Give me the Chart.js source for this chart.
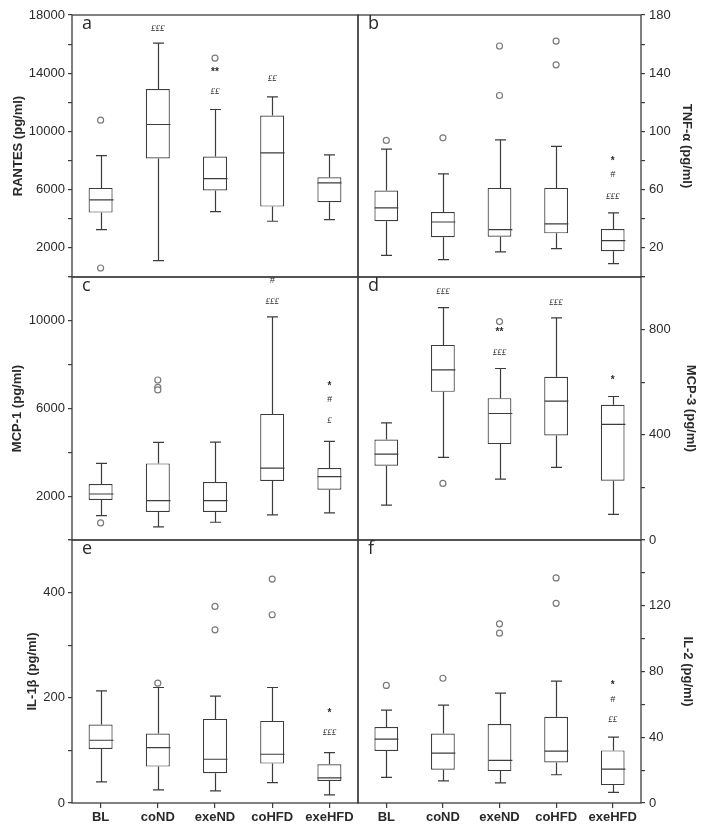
<!DOCTYPE html>
<html><head><meta charset="utf-8">
<script src="https://cdn.jsdelivr.net/npm/chart.js@4.4.0/dist/chart.umd.min.js"></script>
<style>
html,body{margin:0;padding:0;background:#fff;}
#wrap{position:relative;width:706px;height:826px;overflow:hidden;}
canvas{position:absolute;left:0;top:0;}
</style></head><body><div id="wrap">
<canvas id="pa" width="706" height="826"></canvas>
<canvas id="pb" width="706" height="826"></canvas>
<canvas id="pc" width="706" height="826"></canvas>
<canvas id="pd" width="706" height="826"></canvas>
<canvas id="pe" width="706" height="826"></canvas>
<canvas id="pf" width="706" height="826"></canvas>
</div>
<script>
const categories = ['BL', 'coND', 'exeND', 'coHFD', 'exeHFD'];

// a: RANTES
const rantesMin    = [3256, 1123, 4494, 3829, 3943];
const rantesQ1     = [4425, 8139, 5938, 4838, 5136];
const rantesMedian = [5296, 10478, 6763, 8529, 6465];
const rantesQ3     = [6121, 12908, 8277, 11097, 6855];
const rantesMax    = [8345, 16072, 11509, 12380, 8391];
const rantesOutliers = [[10776, 619], [], [15040], [], []];
const rantesMarks  = [[], [['£££', 17080]], [['££', 12724], ['**', 14283]], [['££', 13641]], []];
const rantesTickLabels = [2000, 6000, 10000, 14000, 18000];

// b: TNF-alpha
const tnfMin    = [14.9, 11.9, 17.2, 19.5, 9.2];
const tnfQ1     = [38.3, 27.3, 27.7, 30.0, 17.7];
const tnfMedian = [47.5, 37.8, 32.6, 36.5, 25.0];
const tnfQ3     = [59.4, 44.7, 61.2, 61.2, 33.0];
const tnfMax    = [87.8, 70.9, 94.2, 89.7, 44.0];
const tnfOutliers = [[93.8], [95.6], [158.7, 124.7], [162.1, 145.8], []];
const tnfMarks  = [[], [], [], [], [['£££', 55.0], ['#', 70.2], ['*', 81.6]]];
const tnfTickLabels = [20, 60, 100, 140, 180];

// c: MCP-1
const mcp1Min    = [1114, 599, 811, 1145, 1236];
const mcp1Q1     = [1827, 1281, 1281, 2691, 2297];
const mcp1Median = [2100, 1797, 1797, 3283, 2889];
const mcp1Q3     = [2555, 3495, 2646, 5754, 3283];
const mcp1Max    = [3495, 4450, 4466, 10182, 4496];
const mcp1Outliers = [[781], [7301, 6968, 6846], [], [], []];
const mcp1Marks  = [[], [], [], [['£££', 10865], ['#', 11820]], [['£', 5451], ['#', 6391], ['*', 7149]]];
const mcp1TickLabels = [2000, 6000, 10000];

// d: MCP-3
const mcp3Min    = [132.9, 314, 231.7, 276, 97.5];
const mcp3Q1     = [282.3, 563.4, 364.6, 397.5, 225.3];
const mcp3Median = [326.6, 646.9, 481, 527.9, 439.3];
const mcp3Q3     = [382.3, 741.9, 539.3, 620.3, 514];
const mcp3Max    = [445.6, 883.6, 652, 844.4, 545.6];
const mcp3Outliers = [[], [215.2], [830.5], [], []];
const mcp3Marks  = [[], [['£££', 943]], [['£££', 714], ['**', 800]], [['£££', 904]], [['*', 620]]];
const mcp3TickLabels = [0, 400, 800];

// e: IL-1beta
const il1Min    = [40, 24.8, 22.9, 38.8, 15.3];
const il1Q1     = [102.8, 69.2, 56.5, 74.9, 41.9];
const il1Median = [119.3, 105.4, 83.2, 92.7, 47.6];
const il1Q3     = [149.2, 132, 159.9, 156.1, 73.7];
const il1Max    = [213.2, 219.6, 203.1, 219.6, 95.9];
const il1Outliers = [[], [227.8], [373.7, 329.3], [425.8, 357.9], []];
const il1Marks  = [[], [], [], [], [['£££', 133.9], ['*', 176.4]]];
const il1TickLabels = [0, 200, 400];

// f: IL-2
const il2Min    = [15.6, 13.4, 12.3, 17.2, 6.5];
const il2Q1     = [31.6, 20.2, 19.4, 24.7, 10.9];
const il2Median = [38.9, 30.4, 25.9, 31.6, 20.6];
const il2Q3     = [46.2, 42.3, 48, 52.4, 32];
const il2Max    = [56.5, 59.5, 66.8, 74.1, 40.1];
const il2Outliers = [[71.5], [75.9], [109, 103.3], [136.9, 121.5], []];
const il2Marks  = [[], [], [], [], [['££', 50.6], ['#', 63.2], ['*', 73.5]]];
const il2TickLabels = [0, 40, 80, 120];

const LINE = '#3c3c3c';
const TXT = '#2a2a2a';
const FONT = "'Liberation Sans', Arial, sans-serif";

const boxExtras = {
  id: 'boxExtras',
  afterDatasetsDraw(chart, args, o) {
    const { ctx, chartArea: a, scales: { x, y } } = chart;
    const bars = chart.getDatasetMeta(0).data;
    ctx.save();
    ctx.strokeStyle = LINE;
    ctx.lineWidth = 1.2;
    o.min.forEach((mn, i) => {
      const cx = Math.round(x.getPixelForValue(i)) + 0.5;
      const half = bars[i].width / 2;
      const cap = 5.5;
      const pMin = y.getPixelForValue(mn), pMax = y.getPixelForValue(o.max[i]);
      const pQ1 = y.getPixelForValue(o.q1[i]), pQ3 = y.getPixelForValue(o.q3[i]);
      const pMed = y.getPixelForValue(o.median[i]);
      ctx.beginPath();
      ctx.moveTo(cx, pQ3); ctx.lineTo(cx, pMax);
      ctx.moveTo(cx - cap, pMax); ctx.lineTo(cx + cap, pMax);
      ctx.moveTo(cx, pQ1); ctx.lineTo(cx, pMin);
      ctx.moveTo(cx - cap, pMin); ctx.lineTo(cx + cap, pMin);
      ctx.moveTo(cx - half, pMed); ctx.lineTo(cx + half, pMed);
      ctx.stroke();
    });
    // significance marks
    ctx.fillStyle = TXT;
    ctx.textAlign = 'center';
    ctx.textBaseline = 'middle';
    o.marks.forEach((list, i) => {
      const cx = x.getPixelForValue(i);
      list.forEach(([t, v]) => {
        let dy = 0;
        if (t.startsWith('*')) { ctx.font = "bold 10px " + FONT; dy = 3; }
        else if (t === '#') ctx.font = "italic 9px " + FONT;
        else ctx.font = "italic 9px 'Liberation Serif', serif";
        ctx.fillText(t, cx, y.getPixelForValue(v) + dy);
      });
    });
    // frame
    ctx.strokeStyle = LINE;
    ctx.lineWidth = 1.3;
    ctx.strokeRect(a.left, a.top, a.right - a.left, a.bottom - a.top);
    // panel letter
    ctx.font = "18px 'Open Sans', sans-serif";
    ctx.textAlign = 'left';
    ctx.textBaseline = 'alphabetic';
    ctx.fillStyle = TXT;
    ctx.fillText(o.letter, a.left + 10, a.top + 14);
    ctx.restore();
  }
};

function makePanel(id, p) {
  const isLeft = p.col === 0;
  const rowTop = [15, 277, 540][p.row];
  const rowBottom = [826 - 277, 826 - 540, 0][p.row];
  const outliers = p.outliers.flatMap((vals, i) => vals.map(v => ({ x: categories[i], y: v })));
  new Chart(document.getElementById(id), {
    type: 'bar',
    data: {
      labels: categories,
      datasets: [
        {
          type: 'bar',
          data: p.q1.map((q, i) => [q, p.q3[i]]),
          backgroundColor: '#ffffff',
          borderColor: LINE,
          borderWidth: 1.2,
          borderSkipped: false,
          barPercentage: 0.42,
          categoryPercentage: 1
        },
        {
          type: 'scatter',
          data: outliers,
          pointStyle: 'circle',
          pointRadius: 3,
          pointBorderColor: '#7a7a7a',
          pointBackgroundColor: '#ffffff',
          pointBorderWidth: 1.2,
          showLine: false
        }
      ]
    },
    options: {
      responsive: false,
      devicePixelRatio: 1,
      animation: false,
      events: [],
      layout: {
        padding: {
          left: isLeft ? 0 : 358,
          right: isLeft ? 348 : 0,
          top: rowTop,
          bottom: rowBottom
        }
      },
      plugins: {
        legend: { display: false },
        tooltip: { enabled: false },
        boxExtras: {
          min: p.min, q1: p.q1, median: p.median, q3: p.q3, max: p.max,
          marks: p.marks, letter: p.letter
        }
      },
      scales: {
        x: {
          type: 'category',
          offset: true,
          display: p.row === 2,
          grid: { display: true, drawOnChartArea: false, drawTicks: true, tickLength: 5, color: LINE, offset: false, lineWidth: 1.2 },
          border: { display: false },
          ticks: { font: { family: FONT, size: 13, weight: 'bold' }, color: TXT, padding: 2, autoSkip: false, maxRotation: 0 },
          afterFit(s) { if (p.row === 2) s.height = 23; }
        },
        y: {
          type: 'linear',
          position: isLeft ? 'left' : 'right',
          min: p.yMin,
          max: p.yMax,
          ticks: {
            stepSize: p.step,
            autoSkip: false,
            padding: isLeft ? 3 : 4,
            font: { family: FONT, size: 13 },
            color: TXT,
            callback: v => p.tickLabels.includes(v) ? String(v) : ''
          },
          grid: { drawOnChartArea: false, drawTicks: true, tickLength: 4, color: LINE, lineWidth: 1.2 },
          border: { display: false },
          title: {
            display: true,
            text: p.title,
            color: TXT,
            font: { family: FONT, size: 13, weight: 'bold' },
            padding: { top: p.titlePad, bottom: 0 }
          },
          afterFit(s) { s.width = isLeft ? 72 : 65; }
        }
      }
    },
    plugins: [boxExtras]
  });
}

makePanel('pa', { row: 0, col: 0, letter: 'a', title: 'RANTES (pg/ml)', titlePad: 11, yMin: 0, yMax: 18000, step: 2000,
  tickLabels: rantesTickLabels, min: rantesMin, q1: rantesQ1, median: rantesMedian, q3: rantesQ3, max: rantesMax,
  outliers: rantesOutliers, marks: rantesMarks });
makePanel('pb', { row: 0, col: 1, letter: 'b', title: 'TNF-α (pg/ml)', titlePad: 12, yMin: 0, yMax: 180, step: 20,
  tickLabels: tnfTickLabels, min: tnfMin, q1: tnfQ1, median: tnfMedian, q3: tnfQ3, max: tnfMax,
  outliers: tnfOutliers, marks: tnfMarks });
makePanel('pc', { row: 1, col: 0, letter: 'c', title: 'MCP-1 (pg/ml)', titlePad: 10, yMin: 0, yMax: 12000, step: 2000,
  tickLabels: mcp1TickLabels, min: mcp1Min, q1: mcp1Q1, median: mcp1Median, q3: mcp1Q3, max: mcp1Max,
  outliers: mcp1Outliers, marks: mcp1Marks });
makePanel('pd', { row: 1, col: 1, letter: 'd', title: 'MCP-3 (pg/ml)', titlePad: 8, yMin: 0, yMax: 1000, step: 200,
  tickLabels: mcp3TickLabels, min: mcp3Min, q1: mcp3Q1, median: mcp3Median, q3: mcp3Q3, max: mcp3Max,
  outliers: mcp3Outliers, marks: mcp3Marks });
makePanel('pe', { row: 2, col: 0, letter: 'e', title: 'IL-1β (pg/ml)', titlePad: 25, yMin: 0, yMax: 500, step: 100,
  tickLabels: il1TickLabels, min: il1Min, q1: il1Q1, median: il1Median, q3: il1Q3, max: il1Max,
  outliers: il1Outliers, marks: il1Marks });
makePanel('pf', { row: 2, col: 1, letter: 'f', title: 'IL-2 (pg/ml)', titlePad: 11, yMin: 0, yMax: 160, step: 20,
  tickLabels: il2TickLabels, min: il2Min, q1: il2Q1, median: il2Median, q3: il2Q3, max: il2Max,
  outliers: il2Outliers, marks: il2Marks });
</script>
</body></html>
